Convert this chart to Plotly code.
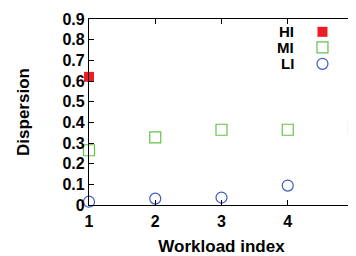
import plotly.graph_objects as go

hi_x = [1]
hi_y = [0.62]
mi_x = [1, 2, 3, 4, 5]
mi_y = [0.265, 0.327, 0.364, 0.364, 0.374]
li_x = [1, 2, 3, 4]
li_y = [0.016, 0.031, 0.036, 0.094]

x_ticks = [1, 2, 3, 4, 5]
y_ticks = [0, 0.1, 0.2, 0.3, 0.4, 0.5, 0.6, 0.7, 0.8, 0.9]
y_tick_text = ["0", "0.1", "0.2", "0.3", "0.4", "0.5", "0.6", "0.7", "0.8", "0.9"]

legend_names = ["HI", "MI", "LI"]
legend_y = [0.931, 0.847, 0.759]

RED = "#ee1c25"
GREEN = "#66c04a"
BLUE = "#3b5cbf"
FONT = "Liberation Sans"

fig = go.Figure()
fig.add_trace(go.Scatter(x=hi_x, y=hi_y, mode="markers", cliponaxis=False,
                         marker=dict(symbol="square", size=10, color=RED, line=dict(width=0))))
fig.add_trace(go.Scatter(x=mi_x, y=mi_y, mode="markers", cliponaxis=False,
                         marker=dict(symbol="square-open", size=11, color=GREEN, line=dict(width=1.2))))
fig.add_trace(go.Scatter(x=li_x, y=li_y, mode="markers", cliponaxis=False,
                         marker=dict(symbol="circle-open", size=11, color=BLUE, line=dict(width=1.2))))

# legend key markers
fig.add_trace(go.Scatter(x=[0.881], y=[legend_y[0]], xaxis="x2", yaxis="y2", mode="markers", cliponaxis=False,
                         marker=dict(symbol="square", size=10, color=RED, line=dict(width=0))))
fig.add_trace(go.Scatter(x=[0.881], y=[legend_y[1]], xaxis="x2", yaxis="y2", mode="markers", cliponaxis=False,
                         marker=dict(symbol="square-open", size=11, color=GREEN, line=dict(width=1.2))))
fig.add_trace(go.Scatter(x=[0.881], y=[legend_y[2]], xaxis="x2", yaxis="y2", mode="markers", cliponaxis=False,
                         marker=dict(symbol="circle-open", size=11, color=BLUE, line=dict(width=1.2))))

for name, yy in zip(legend_names, legend_y):
    fig.add_annotation(x=0.78, y=yy, xref="paper", yref="paper", text="<b>%s</b>" % name,
                       showarrow=False, xanchor="right", yanchor="middle",
                       font=dict(family=FONT, size=15, color="black"))

fig.update_layout(
    width=354, height=248,
    margin=dict(l=81, r=3, t=7, b=49),
    paper_bgcolor="white", plot_bgcolor="white",
    showlegend=False,
    font=dict(family=FONT, color="black"),
    xaxis=dict(range=[1, 5], tickvals=x_ticks, ticktext=["<b>%d</b>" % v for v in x_ticks],
               showgrid=False, zeroline=False, showline=True, linecolor="black", linewidth=1.3,
               mirror="ticks", ticks="inside", ticklen=5, tickcolor="black",
               tickfont=dict(family=FONT, size=16), ticklabelstandoff=2, ticklabeloverflow="allow",
               title=dict(text="<b>Workload index</b>", font=dict(family=FONT, size=17), standoff=11)),
    yaxis=dict(range=[0, 0.9], tickvals=y_ticks, ticktext=["<b>%s</b>" % t for t in y_tick_text],
               showgrid=False, zeroline=False, showline=True, linecolor="black", linewidth=1.3,
               mirror="ticks", ticks="inside", ticklen=5, tickcolor="black",
               tickfont=dict(family=FONT, size=16), ticklabeloverflow="allow",
               title=dict(text="<b>Dispersion</b>", font=dict(family=FONT, size=17), standoff=28)),
    xaxis2=dict(range=[0, 1], overlaying="x", visible=False, fixedrange=True),
    yaxis2=dict(range=[0, 1], overlaying="y", visible=False, fixedrange=True),
)

fig.write_html("out.html")
